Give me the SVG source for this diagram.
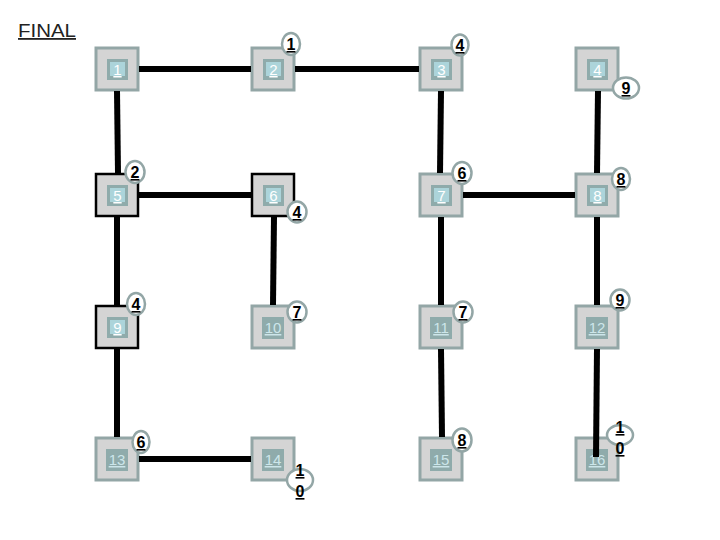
<svg xmlns="http://www.w3.org/2000/svg" width="720" height="540" viewBox="0 0 720 540">
<style>
.title{font-family:"Liberation Sans",Arial,sans-serif;font-size:18px;fill:#222;text-decoration:underline}
.outer{fill:#d4d4d4;stroke:#93a6a6;stroke-width:3}
.outer.sel{stroke:#000;stroke-width:2.5}
.inner{fill:#8fabab}
.hl{fill:#acd4da}
.lbl{font-family:"Liberation Sans",Arial,sans-serif;font-size:15px;fill:#fff;text-anchor:middle;text-decoration:underline}
.lbl2{font-family:"Liberation Sans",Arial,sans-serif;font-size:15px;fill:#cde6ea;text-anchor:middle;text-decoration:underline}
.badge{fill:#fff;stroke:#93a6a6;stroke-width:2.5}
.bt{font-family:"Liberation Sans",Arial,sans-serif;font-size:16px;font-weight:bold;fill:#000;text-anchor:middle;text-decoration:underline}
.edge{stroke:#000;stroke-width:6;fill:none}
</style>
<text class="title" x="18" y="37" textLength="58" lengthAdjust="spacingAndGlyphs">FINAL</text>

<g id="n1"><rect class="outer" x="96" y="48" width="42" height="42"/><rect class="inner" x="107" y="59" width="21" height="21"/><rect class="hl" x="110" y="62" width="15" height="14"/><text class="lbl" x="117.5" y="75">1</text></g>
<g id="n2"><rect class="outer" x="252" y="48" width="42" height="42"/><rect class="inner" x="263" y="59" width="21" height="21"/><rect class="hl" x="266" y="62" width="15" height="14"/><text class="lbl" x="273.5" y="75">2</text><ellipse class="badge" cx="291" cy="44" rx="9" ry="11"/><text class="bt" x="291" y="50">1</text></g>
<g id="n3"><rect class="outer" x="420" y="48" width="42" height="42"/><rect class="inner" x="431" y="59" width="21" height="21"/><rect class="hl" x="434" y="62" width="15" height="14"/><text class="lbl" x="441.5" y="75">3</text><ellipse class="badge" cx="460" cy="45" rx="8.5" ry="10.5"/><text class="bt" x="460" y="51">4</text></g>
<g id="n4"><rect class="outer" x="576" y="48" width="42" height="42"/><rect class="inner" x="587" y="59" width="21" height="21"/><rect class="hl" x="590" y="62" width="15" height="14"/><text class="lbl" x="597.5" y="75">4</text><ellipse class="badge" cx="626" cy="88" rx="13" ry="10.5"/><text class="bt" x="626" y="94">9</text></g>

<g id="n5"><rect class="outer sel" x="96" y="174" width="42" height="42"/><rect class="inner" x="107" y="185" width="21" height="21"/><rect class="hl" x="110" y="188" width="15" height="14"/><text class="lbl" x="117.5" y="201">5</text><ellipse class="badge" cx="135" cy="172" rx="9.5" ry="11"/><text class="bt" x="135" y="178">2</text></g>
<g id="n6"><rect class="outer sel" x="252" y="174" width="42" height="42"/><rect class="inner" x="263" y="185" width="21" height="21"/><rect class="hl" x="266" y="188" width="15" height="14"/><text class="lbl" x="273.5" y="201">6</text><ellipse class="badge" cx="297" cy="212" rx="9.5" ry="10.5"/><text class="bt" x="297" y="218">4</text></g>
<g id="n7"><rect class="outer" x="420" y="174" width="42" height="42"/><rect class="inner" x="431" y="185" width="21" height="21"/><rect class="hl" x="434" y="188" width="15" height="14"/><text class="lbl" x="441.5" y="201">7</text><ellipse class="badge" cx="462" cy="173" rx="9.5" ry="11"/><text class="bt" x="462" y="179">6</text></g>
<g id="n8"><rect class="outer" x="576" y="174" width="42" height="42"/><rect class="inner" x="587" y="185" width="21" height="21"/><rect class="hl" x="590" y="188" width="15" height="14"/><text class="lbl" x="597.5" y="201">8</text><ellipse class="badge" cx="621" cy="179" rx="9" ry="11"/><text class="bt" x="621" y="185">8</text></g>

<g id="n9"><rect class="outer sel" x="96" y="306" width="42" height="42"/><rect class="inner" x="107" y="317" width="21" height="21"/><rect class="hl" x="110" y="320" width="15" height="14"/><text class="lbl" x="117.5" y="333">9</text><ellipse class="badge" cx="136" cy="304" rx="9" ry="11"/><text class="bt" x="136" y="310">4</text></g>
<g id="n10"><rect class="outer" x="252" y="306" width="42" height="42"/><rect class="inner" x="262" y="317" width="22" height="22"/><text class="lbl2" x="273" y="333">10</text><ellipse class="badge" cx="297" cy="312" rx="9.5" ry="10.5"/><text class="bt" x="297" y="318">7</text></g>
<g id="n11"><rect class="outer" x="420" y="306" width="42" height="42"/><rect class="inner" x="430" y="317" width="22" height="22"/><text class="lbl2" x="441" y="333">11</text><ellipse class="badge" cx="463" cy="312" rx="9.5" ry="10.5"/><text class="bt" x="463" y="318">7</text></g>
<g id="n12"><rect class="outer" x="576" y="306" width="42" height="42"/><rect class="inner" x="586" y="317" width="22" height="22"/><text class="lbl2" x="597" y="333">12</text><ellipse class="badge" cx="620" cy="300" rx="9.5" ry="10.5"/><text class="bt" x="620" y="306">9</text></g>

<g id="n13"><rect class="outer" x="96" y="438" width="42" height="42"/><rect class="inner" x="106" y="449" width="22" height="22"/><text class="lbl2" x="117" y="465">13</text><ellipse class="badge" cx="141" cy="442" rx="8.5" ry="11"/><text class="bt" x="141" y="448">6</text></g>
<g id="n14"><rect class="outer" x="252" y="438" width="42" height="42"/><rect class="inner" x="262" y="449" width="22" height="22"/><text class="lbl2" x="273" y="465">14</text><ellipse class="badge" cx="300" cy="480" rx="13" ry="11"/><text class="bt" x="300" y="476">1</text><text class="bt" x="300" y="497">0</text></g>
<g id="n15"><rect class="outer" x="420" y="438" width="42" height="42"/><rect class="inner" x="430" y="449" width="22" height="22"/><text class="lbl2" x="441" y="465">15</text><ellipse class="badge" cx="462" cy="440" rx="9.5" ry="11.5"/><text class="bt" x="462" y="446">8</text></g>
<g id="n16"><rect class="outer" x="576" y="438" width="42" height="42"/><rect class="inner" x="586" y="449" width="22" height="22"/><text class="lbl2" x="597" y="465">16</text><ellipse class="badge" cx="620" cy="435" rx="13" ry="10"/><text class="bt" x="620" y="433">1</text><text class="bt" x="620" y="454">0</text></g>

<g id="edges">
<line class="edge" x1="139" y1="69" x2="251" y2="69"/>
<line class="edge" x1="295" y1="69" x2="419" y2="69"/>
<line class="edge" x1="117" y1="91" x2="118" y2="173"/>
<line class="edge" x1="441" y1="91" x2="440" y2="173"/>
<line class="edge" x1="598" y1="91" x2="597" y2="173"/>
<line class="edge" x1="139" y1="195" x2="251" y2="195"/>
<line class="edge" x1="463" y1="195" x2="575" y2="195"/>
<line class="edge" x1="117" y1="217" x2="117" y2="305"/>
<line class="edge" x1="274" y1="217" x2="273" y2="305"/>
<line class="edge" x1="441" y1="217" x2="441" y2="305"/>
<line class="edge" x1="597" y1="217" x2="597" y2="305"/>
<line class="edge" x1="117" y1="349" x2="117" y2="437"/>
<line class="edge" x1="139" y1="459" x2="251" y2="459"/>
<line class="edge" x1="441" y1="349" x2="442" y2="437"/>
<line class="edge" x1="597" y1="349" x2="596" y2="457"/>
</g>
</svg>
